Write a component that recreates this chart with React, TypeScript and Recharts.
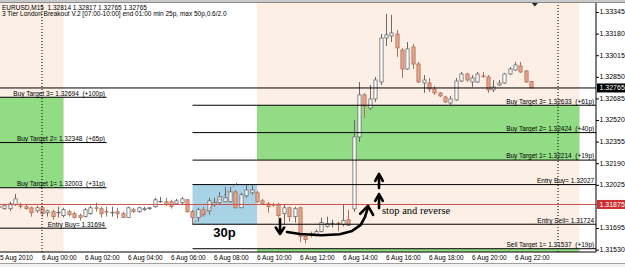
import React from 'react';
import { ComposedChart, Bar, Line, XAxis, YAxis, ReferenceArea, ReferenceLine, ReferenceDot } from 'recharts';

// EURUSD M15 candles, bar index relative to 6 Aug 2010 00:00 (first bar = 5 Aug 22:00)
const FIRST_BAR = -8;
const opens = [
  1.31858, 1.31843, 1.31843, 1.31873, 1.31865, 1.31858, 1.31850, 1.31827, 1.31850, 1.31812,
  1.31820, 1.31812, 1.31790, 1.31820, 1.31805, 1.31790, 1.31782, 1.31805, 1.31850, 1.31843,
  1.31820, 1.31812, 1.31820, 1.31805, 1.31775, 1.31835, 1.31820, 1.31835, 1.31843, 1.31858,
  1.31896, 1.31896, 1.31896, 1.31880, 1.31888, 1.31911, 1.31820, 1.31775, 1.31835, 1.31827,
  1.31873, 1.31888, 1.31896, 1.31896, 1.31971, 1.31850, 1.31941, 1.31964, 1.31964, 1.31903,
  1.31880, 1.31873, 1.31873, 1.31805, 1.31850, 1.31782, 1.31850, 1.31631, 1.31654, 1.31646,
  1.31669, 1.31707, 1.31729, 1.31732, 1.31722, 1.31759, 1.31841, 1.32391, 1.32712, 1.32612,
  1.32681, 1.32811, 1.33147, 1.33162, 1.33177, 1.33055, 1.32910, 1.33078, 1.32948, 1.32803,
  1.32803, 1.32757, 1.32727, 1.32696, 1.32650, 1.32673, 1.32818, 1.32872, 1.32811, 1.32811,
  1.32857, 1.32849, 1.32750, 1.32788, 1.32803, 1.32872, 1.32902, 1.32933, 1.32895, 1.32814,
];
const highs = [
  1.31873, 1.31880, 1.31896, 1.31956, 1.31888, 1.31873, 1.31858, 1.31865, 1.31865, 1.31835,
  1.31835, 1.31858, 1.31850, 1.31835, 1.31820, 1.31805, 1.31850, 1.31865, 1.31888, 1.31858,
  1.31858, 1.31858, 1.31850, 1.31820, 1.31858, 1.31850, 1.31858, 1.31858, 1.31852, 1.31926,
  1.31933, 1.31926, 1.31911, 1.31918, 1.31933, 1.31918, 1.31835, 1.31850, 1.31858, 1.31926,
  1.31926, 1.31971, 1.32009, 1.32009, 1.31986, 1.31964, 1.32027, 1.32020, 1.31979, 1.31918,
  1.31896, 1.31888, 1.31888, 1.31873, 1.31858, 1.31858, 1.31858, 1.31646, 1.31669, 1.31684,
  1.31775, 1.31782, 1.31759, 1.31744, 1.31873, 1.31835, 1.32521, 1.32811, 1.32727, 1.32788,
  1.32849, 1.33177, 1.33330, 1.33323, 1.33208, 1.33071, 1.33116, 1.33101, 1.32964, 1.32864,
  1.32841, 1.32780, 1.32734, 1.32704, 1.32704, 1.32841, 1.32887, 1.32880, 1.32864, 1.32887,
  1.32887, 1.32864, 1.32826, 1.32826, 1.32880, 1.32925, 1.32964, 1.32964, 1.32902, 1.32817,
];
const lows = [
  1.31843, 1.31835, 1.31827, 1.31865, 1.31843, 1.31835, 1.31782, 1.31812, 1.31782, 1.31782,
  1.31759, 1.31775, 1.31775, 1.31782, 1.31767, 1.31752, 1.31775, 1.31797, 1.31820, 1.31775,
  1.31782, 1.31782, 1.31767, 1.31771, 1.31771, 1.31812, 1.31812, 1.31827, 1.31835, 1.31850,
  1.31888, 1.31865, 1.31843, 1.31873, 1.31873, 1.31812, 1.31724, 1.31744, 1.31782, 1.31797,
  1.31858, 1.31873, 1.31896, 1.31888, 1.31843, 1.31850, 1.31926, 1.31949, 1.31888, 1.31873,
  1.31812, 1.31858, 1.31775, 1.31722, 1.31744, 1.31737, 1.31586, 1.31578, 1.31623, 1.31631,
  1.31661, 1.31699, 1.31699, 1.31669, 1.31707, 1.31714, 1.31818, 1.32353, 1.32536, 1.32597,
  1.32658, 1.32788, 1.33086, 1.33116, 1.33002, 1.32841, 1.32902, 1.32910, 1.32803, 1.32727,
  1.32734, 1.32712, 1.32696, 1.32650, 1.32635, 1.32666, 1.32811, 1.32811, 1.32773, 1.32803,
  1.32841, 1.32727, 1.32734, 1.32780, 1.32796, 1.32864, 1.32895, 1.32880, 1.32803, 1.32765,
];
const closes = [
  1.31855, 1.31865, 1.31880, 1.31918, 1.31862, 1.31843, 1.31812, 1.31850, 1.31805, 1.31827,
  1.31782, 1.31815, 1.31835, 1.31797, 1.31775, 1.31775, 1.31835, 1.31850, 1.31847, 1.31805,
  1.31817, 1.31815, 1.31805, 1.31775, 1.31850, 1.31820, 1.31850, 1.31843, 1.31850, 1.31911,
  1.31899, 1.31873, 1.31858, 1.31903, 1.31918, 1.31820, 1.31775, 1.31835, 1.31797, 1.31903,
  1.31888, 1.31933, 1.31926, 1.31971, 1.31850, 1.31949, 1.31986, 1.31986, 1.31896, 1.31880,
  1.31858, 1.31869, 1.31790, 1.31850, 1.31782, 1.31843, 1.31631, 1.31608, 1.31638, 1.31669,
  1.31737, 1.31729, 1.31732, 1.31729, 1.31752, 1.31714, 1.32391, 1.32712, 1.32627, 1.32681,
  1.32826, 1.33147, 1.33170, 1.33185, 1.33071, 1.32910, 1.33063, 1.32948, 1.32811, 1.32826,
  1.32757, 1.32727, 1.32704, 1.32658, 1.32681, 1.32818, 1.32872, 1.32826, 1.32841, 1.32872,
  1.32853, 1.32750, 1.32773, 1.32803, 1.32872, 1.32910, 1.32941, 1.32887, 1.32811, 1.32765,
];

// x tick labels (bar index positions)
const xTickPos = [-7.8, 0, 8, 16, 24, 32, 40, 48, 56, 64, 72, 80, 88];
const xTickLabels = [
  '5 Aug 2010', '6 Aug 00:00', '6 Aug 02:00', '6 Aug 04:00', '6 Aug 06:00', '6 Aug 08:00',
  '6 Aug 10:00', '6 Aug 12:00', '6 Aug 14:00', '6 Aug 16:00', '6 Aug 18:00', '6 Aug 20:00', '6 Aug 22:00',
];
const priceTicks = [1.33345, 1.3318, 1.33015, 1.3285, 1.32685, 1.3252, 1.32355, 1.3219, 1.32025, 1.31695, 1.3153];
const bidPrice = 1.32765;
const redLinePrice = 1.31875;

// previous day levels
const prevNames = ['Buy Target 3', 'Buy Target 2', 'Buy Target 1', 'Entry Buy'];
const prevPrices = [1.32694, 1.32348, 1.32003, 1.31694];
const prevPips = ['+100p', '+65p', '+31p', ''];
// current day levels
const curNames = ['Buy Target 3', 'Buy Target 2', 'Buy Target 1', 'Entry Buy', 'Entry Sell', 'Sell Target 1'];
const curPrices = [1.32633, 1.32424, 1.32214, 1.32027, 1.31724, 1.31537];
const curPips = ['+61p', '+40p', '+19p', '', '', '+19p'];

// session bar indices
const X_MIN = -7.814;
const X_MAX = 103.07;
const Y_MIN = 1.31512;
const Y_MAX = 1.33414;
const prevLineEnd = 12;
const prevZoneEnd = 4; // 01:00
const rangeStart = 28; // 07:00
const rangeEnd = 40; // 10:00
const sessionEnd = 100; // 01:00 next day
const daySeparators = [0, 96];

// hand-drawn annotation strokes (bar index, price)
const arrowDownShaft = [{ i: 44.28, p: 1.31764 }, { i: 44.28, p: 1.31655 }];
const arrowDownHead = [{ i: 43.5, p: 1.31699 }, { i: 44.28, p: 1.31650 }, { i: 45.05, p: 1.31699 }];
const reverseCurve = [
  { i: 45.58, p: 1.31665 }, { i: 48.0, p: 1.3165 }, { i: 52.0, p: 1.3164 }, { i: 55.4, p: 1.31648 },
  { i: 57.7, p: 1.31673 }, { i: 59.3, p: 1.31719 }, { i: 60.1, p: 1.3178 }, { i: 60.6, p: 1.31848 },
];
const reverseHead = [{ i: 59.2, p: 1.31804 }, { i: 60.65, p: 1.31864 }, { i: 61.6, p: 1.31795 }];
const up1Shaft = [{ i: 62.7, p: 1.32001 }, { i: 62.7, p: 1.32085 }];
const up1Head = [{ i: 62.0, p: 1.32055 }, { i: 62.7, p: 1.32108 }, { i: 63.4, p: 1.32055 }];
const up2Shaft = [{ i: 62.7, p: 1.31848 }, { i: 62.7, p: 1.31925 }];
const up2Head = [{ i: 62.0, p: 1.31902 }, { i: 62.7, p: 1.31955 }, { i: 63.4, p: 1.31902 }];
const annotationStrokes = [arrowDownShaft, arrowDownHead, reverseCurve, reverseHead, up1Shaft, up1Head, up2Shaft, up2Head];

const FONT = 'Liberation Sans, Arial, sans-serif';
const BEIGE = '#FBEFE6';
const GREEN = '#92DC86';
const BLUE = '#A8D3E6';
const RED = '#C8504C';
const BULL_EDGE = '#6a6a6a';
const BEAR_EDGE = '#B0705A';
const BEAR_FILL = '#EAA68C';

function Candle(props: any) {
  const { x, y, width, height, payload } = props;
  if (x == null || !payload) return null;
  const top = Math.min(y, y + height);
  const span = Math.abs(height);
  const { o, h, l, c } = payload;
  const k = h > l ? span / (h - l) : 0;
  const py = (v: number) => top + (h - v) * k;
  const cx = Math.round(x + width / 2) + 0.5;
  const bull = c >= o;
  const bTop = py(Math.max(o, c));
  const bBot = py(Math.min(o, c));
  const edge = bull ? BULL_EDGE : BEAR_EDGE;
  return (
    <g>
      <line x1={cx} x2={cx} y1={top} y2={top + span} stroke={edge} strokeWidth={1} />
      <rect x={cx - 1.6} y={bTop} width={3.2} height={Math.max(bBot - bTop, 0.5)} fill={bull ? '#ffffff' : BEAR_FILL} stroke={edge} strokeWidth={0.8} />
    </g>
  );
}

function levelText(name: string, price: number, pips: string) {
  return `${name}= ${price.toFixed(5)}` + (pips ? `  (${pips})` : '');
}

const labelShape = (text: string) => (props: any) => (
  <text x={props.cx - 1.5} y={props.cy - 1.6} textAnchor="end" fontSize={6.5} fontFamily={FONT} fill="#000" style={{ whiteSpace: 'pre' }}>
    {text}
  </text>
);

const renderXTick = (props: any) => {
  const { x, y, payload } = props;
  const idx = xTickPos.indexOf(payload.value);
  return (
    <text x={x} y={y + 8} textAnchor="start" fontSize={6.5} fontFamily={FONT} fill="#000">
      {idx >= 0 ? xTickLabels[idx] : ''}
    </text>
  );
};

const renderYTick = (props: any) => {
  const { x, y, payload } = props;
  const v = payload.value;
  const label = v.toFixed(5);
  if (v === bidPrice || v === redLinePrice) {
    const bg = v === bidPrice ? '#000' : '#CC3030';
    return (
      <g>
        <rect x={x + 1} y={y - 4.5} width={28} height={9} fill={bg} />
        <text x={x + 3.5} y={y + 2.4} fontSize={7} fontFamily={FONT} fill="#fff">{label}</text>
      </g>
    );
  }
  return (
    <g>
      <line x1={x} x2={x + 3} y1={y + 0.5} y2={y + 0.5} stroke="#000" strokeWidth={1} />
      <text x={x + 3.5} y={y + 2.4} fontSize={7} fontFamily={FONT} fill="#000">{label}</text>
    </g>
  );
};

export default function App() {
  const rows = opens.map((o, k) => ({
    i: FIRST_BAR + k,
    o,
    h: highs[k],
    l: lows[k],
    c: closes[k],
    range: [lows[k], highs[k]],
  }));

  return (
    <div style={{ position: 'absolute', left: 0, top: 0, width: 625, height: 267, background: '#fff', overflow: 'hidden' }}>
      <ComposedChart width={625} height={267} data={rows} margin={{ top: 3, right: 0, bottom: 0, left: 0 }}>
        <XAxis
          dataKey="i"
          type="number"
          domain={[X_MIN, X_MAX]}
          allowDataOverflow
          ticks={xTickPos}
          interval={0}
          tick={renderXTick}
          tickLine={false}
          tickSize={0}
          tickMargin={0}
          axisLine={{ stroke: '#000' }}
          height={15}
        />
        <YAxis
          orientation="right"
          type="number"
          domain={[Y_MIN, Y_MAX]}
          allowDataOverflow
          ticks={[...priceTicks, bidPrice, redLinePrice]}
          interval={0}
          tick={renderYTick}
          tickLine={false}
          tickSize={0}
          tickMargin={0}
          width={29}
          axisLine={{ stroke: '#000' }}
        />

        {/* session backgrounds */}
        <ReferenceArea x1={-9} x2={prevZoneEnd} fill={BEIGE} fillOpacity={1} stroke="none" ifOverflow="hidden" />
        <ReferenceArea x1={rangeEnd} x2={sessionEnd} fill={BEIGE} fillOpacity={1} stroke="none" ifOverflow="hidden" />
        <ReferenceArea x1={-9} x2={prevZoneEnd} y1={prevPrices[2]} y2={prevPrices[0]} fill={GREEN} fillOpacity={1} stroke="none" ifOverflow="hidden" />
        <ReferenceArea x1={rangeEnd} x2={sessionEnd} y1={curPrices[2]} y2={curPrices[0]} fill={GREEN} fillOpacity={1} stroke="none" ifOverflow="hidden" />
        <ReferenceArea x1={rangeEnd} x2={sessionEnd} y1={1.314} y2={curPrices[5]} fill={GREEN} fillOpacity={1} stroke="none" ifOverflow="hidden" />
        <ReferenceArea x1={rangeStart} x2={rangeEnd} y1={curPrices[4]} y2={curPrices[3]} fill={BLUE} fillOpacity={1} stroke="none" ifOverflow="hidden" />

        {daySeparators.map((d) => (
          <ReferenceLine key={'d' + d} x={d} stroke="#000" strokeDasharray="1 2" strokeWidth={1} ifOverflow="hidden" />
        ))}

        {prevPrices.map((p, k) => (
          <ReferenceLine key={'pl' + k} segment={[{ x: -9, y: p }, { x: prevLineEnd, y: p }]} stroke="#000" strokeWidth={1} ifOverflow="hidden" />
        ))}
        {curPrices.map((p, k) => (
          <ReferenceLine key={'cl' + k} segment={[{ x: rangeStart, y: p }, { x: X_MAX, y: p }]} stroke="#000" strokeWidth={1} ifOverflow="hidden" />
        ))}
        <ReferenceLine y={redLinePrice} stroke={RED} strokeWidth={1} ifOverflow="hidden" />
        <ReferenceLine y={bidPrice} stroke="#000" strokeWidth={1} ifOverflow="hidden" />
        <ReferenceLine segment={[{ x: 27.9, y: 1.31719 }, { x: 36.3, y: 1.3204 }]} stroke="#B0605A" strokeDasharray="2 2" strokeWidth={1} ifOverflow="hidden" />

        <Bar dataKey="range" barSize={4} shape={Candle} isAnimationActive={false} />

        {annotationStrokes.map((pts, k) => (
          <Line
            key={'a' + k}
            data={pts}
            dataKey="p"
            type="linear"
            stroke="#000"
            strokeWidth={2.6}
            strokeLinecap="round"
            strokeLinejoin="round"
            dot={false}
            activeDot={false}
            isAnimationActive={false}
          />
        ))}

        {prevPrices.map((p, k) => (
          <ReferenceDot key={'pt' + k} x={prevLineEnd} y={p} r={0} ifOverflow="visible" shape={labelShape(levelText(prevNames[k], p, prevPips[k]))} />
        ))}
        {curPrices.map((p, k) => (
          <ReferenceDot key={'ct' + k} x={X_MAX - 0.05} y={p} r={0} ifOverflow="visible" shape={labelShape(levelText(curNames[k], p, curPips[k]))} />
        ))}

        <ReferenceDot
          x={33.95}
          y={1.31627}
          r={0}
          ifOverflow="visible"
          shape={(pr: any) => (
            <text x={pr.cx} y={pr.cy} textAnchor="middle" fontSize={13} fontWeight="bold" fontFamily={FONT} fill="#000">30p</text>
          )}
        />
        <ReferenceDot
          x={63.26}
          y={1.31803}
          r={0}
          ifOverflow="visible"
          shape={(pr: any) => (
            <text x={pr.cx} y={pr.cy} textAnchor="start" fontSize={10.5} fontFamily="Liberation Serif, Times New Roman, serif" fill="#000">stop and reverse</text>
          )}
        />
        <ReferenceDot
          x={91.7}
          y={Y_MAX}
          r={0}
          ifOverflow="visible"
          shape={(pr: any) => (
            <path d={`M${pr.cx - 3},${pr.cy} L${pr.cx + 3},${pr.cy} L${pr.cx},${pr.cy + 3.5} Z`} fill="#222" />
          )}
        />
      </ComposedChart>

      {/* window chrome and title */}
      <div style={{ position: 'absolute', left: 0, top: 0, width: 625, height: 2, background: '#c9c9c9', borderBottom: '1px solid #8a8a8a' }} />
      <div style={{ position: 'absolute', left: 0, top: 263, width: 625, height: 4, background: '#f2f2f2', borderTop: '1px solid #a0a0a0' }} />
      <svg width={625} height={20} style={{ position: 'absolute', left: 0, top: 0, pointerEvents: 'none' }}>
        <text x={2} y={9.5} fontSize={6.5} fontFamily={FONT} fill="#000" style={{ whiteSpace: 'pre' }}>EURUSD,M15  1.32814 1.32817 1.32765 1.32765</text>
        <text x={2} y={16} fontSize={6.5} fontFamily={FONT} fill="#000" style={{ whiteSpace: 'pre' }}>3 Tier London Breakout V.2 [07:00-10:00] end 01:00 min 25p, max 50p,0.6/2.0</text>
      </svg>
    </div>
  );
}
